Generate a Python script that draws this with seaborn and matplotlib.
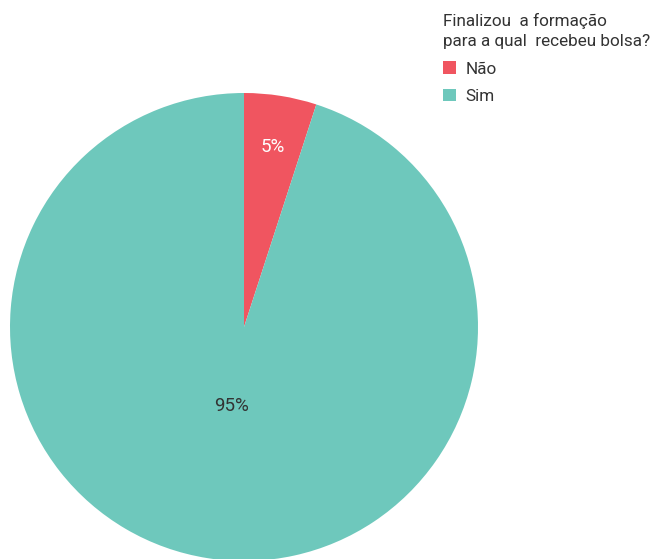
import matplotlib
matplotlib.use("Agg")
import matplotlib.pyplot as plt
from matplotlib.patches import Patch
import numpy as np
import seaborn as sns

categories = ["Não", "Sim"]
values = [5, 95]
colors = ["#F05560", "#6EC8BC"]
legend_title = "Finalizou  a formação\npara a qual  recebeu bolsa?"

sns.set_theme(style="white")
plt.rcParams["font.family"] = ["Roboto", "DejaVu Sans"]

W, H = 651, 559
fig = plt.figure(figsize=(W / 100, H / 100), dpi=100)
ax = fig.add_axes([10 / W, -2 / H, 468 / W, 468 / H])

wedges, _ = ax.pie(values, colors=colors, startangle=90, counterclock=False,
                   wedgeprops=dict(linewidth=0))
ax.set_aspect("equal")
ax.set_xlim(-1, 1)
ax.set_ylim(-1, 1)
ax.axis("off")

# percentage labels along each wedge's bisector
label_dist = [0.78, 0.34]
label_colors = ["white", "#333333"]
total = sum(values)
start = 90.0
for v, d, c in zip(values, label_dist, label_colors):
    mid = np.deg2rad(start - 360 * v / total / 2)
    ax.text(d * np.cos(mid), d * np.sin(mid), f"{v / total * 100:.0f}%",
            ha="center", va="center", fontsize=13.5, color=c)
    start -= 360 * v / total

handles = [Patch(facecolor=c, edgecolor="none") for c in colors]
leg = fig.legend(handles, categories, loc="upper left",
                 bbox_to_anchor=(431 / W, 1 - 1 / H), frameon=False,
                 title=legend_title, alignment="left", fontsize=12.3,
                 title_fontsize=12.3, handlelength=0.75, handleheight=0.75,
                 handletextpad=0.55, labelspacing=0.7, borderpad=0.2)
leg.get_title().set_linespacing(1.45)
leg.get_title().set_color("#333333")
for t in leg.get_texts():
    t.set_color("#333333")

fig.savefig("out.png", dpi=100)
